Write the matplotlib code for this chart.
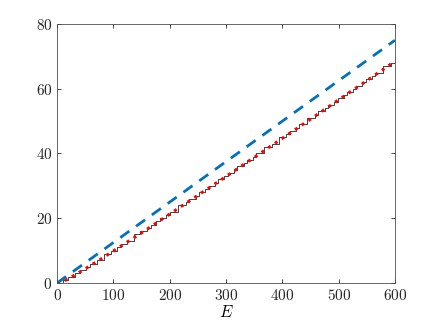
import numpy as np
import matplotlib.pyplot as plt
from matplotlib.ticker import FuncFormatter

# ========================== data ==========================
# eigenvalue energies read from the staircase (repeated values = degenerate levels)
levels = [10.5, 20.0, 32.0, 40.0, 51.0, 58.5, 70.0, 82.5, 82.5, 95.0,
          106.0, 113.0, 124.0, 136.0, 136.0, 148.0, 159.0, 166.0, 176.0, 183.0,
          194.0, 200.0, 214.5, 214.5, 228.0, 235.0, 246.0, 252.0, 263.0, 269.0,
          280.0, 286.0, 297.0, 303.0, 314.0, 320.0, 331.0, 337.0, 348.0, 354.0,
          368.0, 368.0, 381.0, 393.5, 393.5, 407.0, 413.0, 424.0, 430.0, 444.0,
          444.0, 458.0, 464.0, 475.0, 481.0, 492.0, 498.0, 509.0, 514.0, 525.0,
          531.0, 542.0, 548.0, 559.0, 565.0, 578.5, 578.5, 592.0]

# smooth (red) curve, read at a few energies
E_smooth = [0, 10, 25, 50, 75, 100, 150, 200, 250, 300, 350, 400, 450, 500, 550, 600]
N_smooth = [0, 0.4, 1.8, 4.4, 7.1, 9.9, 15.5, 21.3, 27.1, 32.9, 38.8, 44.7, 50.6, 56.6, 62.5, 68.5]

# leading (blue dashed) term
E_lead = [0, 600]
N_lead = [0, 75]

# ========================== plot ==========================
plt.rcParams['mathtext.fontset'] = 'cm'
plt.rcParams['font.family'] = 'DejaVu Serif'

fig = plt.figure(figsize=(4.36, 3.27), dpi=100)
ax = fig.add_axes([0.131, 0.1346, 0.775, 0.792])

# staircase N(E)
E_steps = np.concatenate(([0.0], np.sort(levels), [600.0]))
N_steps = np.concatenate(([0], np.arange(1, len(levels) + 1), [len(levels)]))
ax.step(E_steps, N_steps, where='post', color='#404040', lw=0.7)

ax.plot(E_smooth, N_smooth, color='red', ls=':', lw=2.2)
ax.plot(E_lead, N_lead, color='#0072BD', ls='--', lw=2.0, dashes=(4, 3))

ax.set_xlim(0, 600)
ax.set_ylim(0, 80)
ax.set_xticks(range(0, 601, 100))
ax.set_yticks(range(0, 81, 20))
fmt = FuncFormatter(lambda v, p: f"${v:g}$")
ax.xaxis.set_major_formatter(fmt)
ax.yaxis.set_major_formatter(fmt)
ax.tick_params(direction='in', top=True, right=True, length=3, width=0.6,
               labelsize=11, colors='#262626')
for s in ax.spines.values():
    s.set_linewidth(0.6)
    s.set_color('#4d4d4d')
ax.set_xlabel('$E$', fontsize=12, labelpad=1)

fig.savefig('out.png', dpi=100)
